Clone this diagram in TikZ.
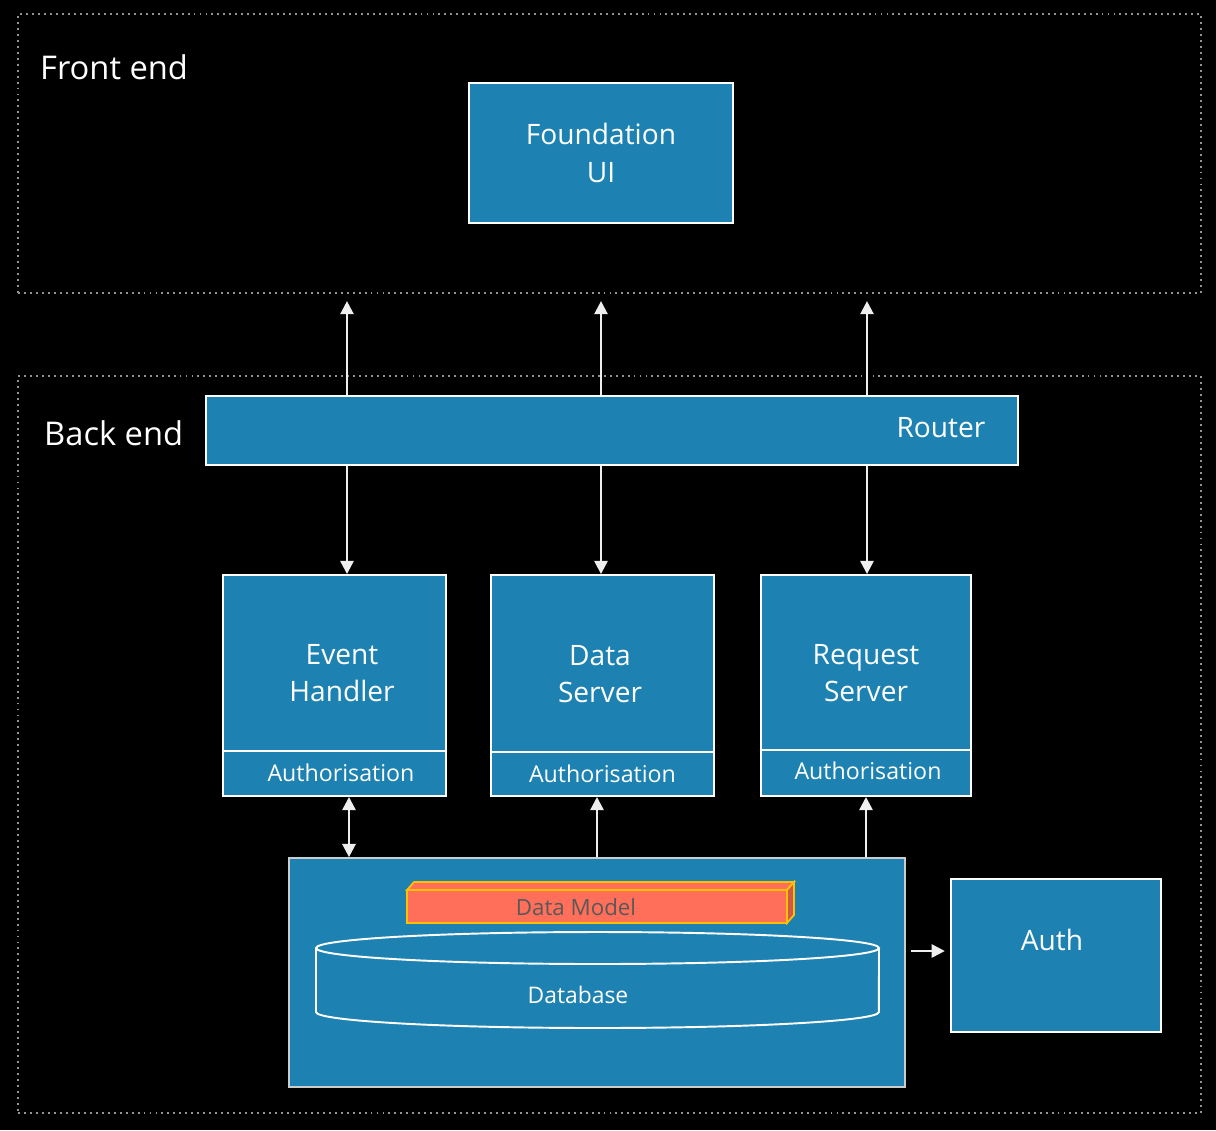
\documentclass[tikz,border=0pt]{standalone}
\usepackage{fontspec}
\setmainfont{Open Sans}
\usetikzlibrary{arrows.meta,calc,positioning}
\definecolor{boxblue}{RGB}{29,130,177}
\definecolor{dmred}{RGB}{255,111,89}
\definecolor{dmside}{RGB}{208,90,74}
\definecolor{dmedge}{RGB}{255,192,0}
\definecolor{dmtext}{RGB}{89,89,89}
\definecolor{arrowwhite}{RGB}{238,238,238}

\begin{document}
\begin{tikzpicture}[x=0.02cm,y=-0.02cm,
    box/.style={draw=white,fill=boxblue,line width=1.1pt,inner sep=0pt,text=white,align=center,font=\fontsize{16}{21.5}\selectfont},
    authbar/.style={box,font=\fontsize{13.2}{16}\selectfont},
    lbl/.style={text=white,align=center,font=\fontsize{16}{21.5}\selectfont},
    zone/.style={draw=gray!85,line width=1.2pt,dash pattern=on 1.1pt off 2.3pt,inner sep=0pt,minimum width=23.66cm},
    arr/.style={draw=arrowwhite,line width=1.3pt,-{Triangle[width=7.5pt,length=7.5pt]}},
    darr/.style={arr,{Triangle[width=7.5pt,length=7.5pt]}-{Triangle[width=7.5pt,length=7.5pt]}}]
  % background
  \fill[black] (0,0) rectangle (1216,1130);
  \useasboundingbox (0,0) rectangle (1216,1130);
  % zones
  \node[zone,minimum height=5.58cm] (front) at (609.5,153.5) {};
  \node[zone,minimum height=14.74cm] (back) at (609.5,744.5) {};
  \node[anchor=west,text=white,font=\fontsize{18.6}{22}\selectfont] (fronttitle) at (34,67) {Front end};
  \node[anchor=west,text=white,font=\fontsize{18.6}{22}\selectfont] (backtitle) at (38,433) {Back end};
  % front end
  \node[box,minimum width=5.28cm,minimum height=2.8cm] (ui) at (601,153) {Foundation\\UI};
  % router
  \node[box,minimum width=16.24cm,minimum height=1.38cm] (router) at (612,430.5) {};
  \node[lbl] (routertext) at (941,428) {Router};
  % servers
  \node[box,minimum width=4.46cm,minimum height=3.52cm] (evtop) at (334.5,663) {};
  \node[authbar,minimum width=4.46cm,minimum height=0.9cm] (evauth) at (334.5,773.5) {};
  \node[text=white,font=\fontsize{13.2}{16}\selectfont] (evauthtext) at (341,773) {Authorisation};
  \node[lbl] (evtext) at (342,673) {Event\\Handler};
  \node[box,minimum width=4.46cm,minimum height=3.54cm] (dstop) at (602.5,663.5) {};
  \node[authbar,minimum width=4.46cm,minimum height=0.88cm] (dsauth) at (602.5,774) {Authorisation};
  \node[lbl] (dstext) at (600,674) {Data\\Server};
  \node[box,minimum width=4.2cm,minimum height=3.5cm] (rstop) at (866,662.5) {};
  \node[authbar,minimum width=4.2cm,minimum height=0.92cm] (rsauth) at (866,773) {};
  \node[text=white,font=\fontsize{13.2}{16}\selectfont] (rsauthtext) at (868,771) {Authorisation};
  \node[lbl] (rstext) at (866,673) {Request\\Server};
  % storage
  \node[draw=gray!40,fill=boxblue,line width=1pt,minimum width=12.32cm,minimum height=4.58cm] (store) at (597,972.5) {};
  % data model block
  \filldraw[fill=dmred,draw=dmedge,line width=1pt] (407,890) -- (414,882) -- (794,882) -- (787,890) -- cycle;
  \filldraw[fill=dmside,draw=dmedge,line width=1pt] (787,890) -- (794,882) -- (794,915) -- (787,923) -- cycle;
  \filldraw[fill=dmred,draw=dmedge,line width=1pt] (407,890) rectangle (787,923);
  \node[text=dmtext,font=\fontsize{12.7}{15}\selectfont] (dmtext) at (576,907) {Data Model};
  % database
  \draw[white,line width=1.1pt] (597.5,948) ellipse [x radius=5.63cm,y radius=0.32cm];
  \draw[white,line width=1.1pt] (316,948) -- (316,1012) arc [start angle=180,end angle=360,x radius=5.63cm,y radius=0.32cm] -- (879,948);
  \node[text=white,font=\fontsize{13}{16}\selectfont] (dbtext) at (578,995) {Database};
  % auth
  \node[box,minimum width=4.2cm,minimum height=3.06cm] (auth) at (1056,955.5) {};
  \node[lbl] (authtext) at (1052,940) {Auth};
  % connectors
  \coordinate (xa) at (347,0);
  \coordinate (xb) at (601,0);
  \coordinate (xc) at (867,0);
  \coordinate (xd) at (349,0);
  \coordinate (xe) at (597,0);
  \coordinate (xf) at (866,0);
  \coordinate (ya) at (0,951);
  \draw[arr,shorten >=4pt] (router.north -| xa) -- (front.south -| xa);
  \draw[arr,shorten >=4pt] (router.north -| xb) -- (front.south -| xb);
  \draw[arr,shorten >=4pt] (router.north -| xc) -- (front.south -| xc);
  \draw[arr] (router.south -| xa) -- (evtop.north -| xa);
  \draw[arr] (router.south -| xb) -- (dstop.north -| xb);
  \draw[arr] (router.south -| xc) -- (rstop.north -| xc);
  \draw[darr] (evauth.south -| xd) -- (store.north -| xd);
  \draw[arr] (store.north -| xe) -- (dsauth.south -| xe);
  \draw[arr] (store.north -| xf) -- (rsauth.south -| xf);
  \draw[arr,shorten <=3pt,shorten >=3pt] (store.east |- ya) -- (auth.west |- ya);
\end{tikzpicture}
\end{document}
